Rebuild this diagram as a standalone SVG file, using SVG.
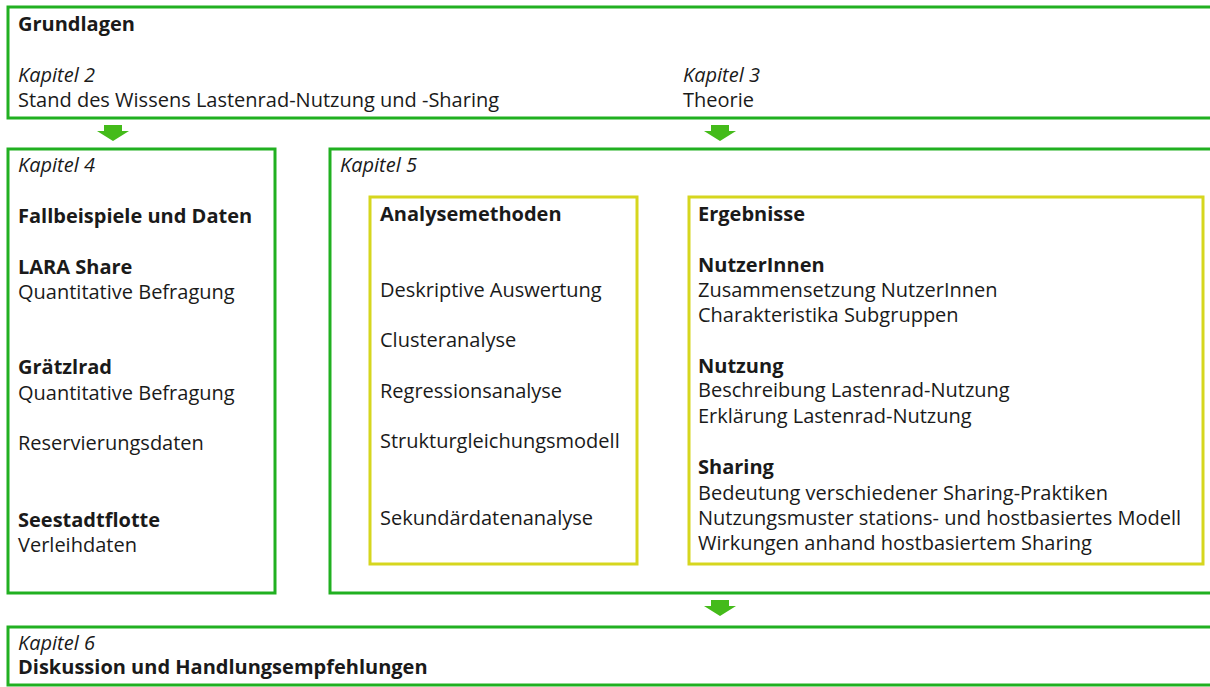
<svg xmlns="http://www.w3.org/2000/svg" width="1210" height="687" viewBox="0 0 1210 687">
<style>
text{font-family:"Open Sans","Noto Sans","Liberation Sans",sans-serif;font-size:20px;fill:#1a1a1a}
.b{font-weight:bold}
.i{font-style:italic}
.g{fill:none;stroke:#21b021;stroke-width:3}
.y{fill:none;stroke:#d6d61e;stroke-width:3}
.arr{fill:#44bb1a}
</style>
<rect width="1210" height="687" fill="#fff"/>
<g id="grundlagen">
<rect class="g" x="8" y="7" width="1220" height="111"/>
<text class="b" x="18" y="31">Grundlagen</text>
<text class="i" x="18" y="82">Kapitel 2</text>
<text x="18" y="107">Stand des Wissens Lastenrad-Nutzung und -Sharing</text>
<text class="i" x="683" y="82">Kapitel 3</text>
<text x="683" y="107">Theorie</text>
</g>
<g id="kapitel4">
<rect class="g" x="8" y="149" width="267" height="444"/>
<text class="i" x="18" y="172">Kapitel 4</text>
<text class="b" x="18" y="223">Fallbeispiele und Daten</text>
<text class="b" x="18" y="274">LARA Share</text>
<text x="18" y="299">Quantitative Befragung</text>
<text class="b" x="18" y="374">Grätzlrad</text>
<text x="18" y="400">Quantitative Befragung</text>
<text x="18" y="450">Reservierungsdaten</text>
<text class="b" x="18" y="527">Seestadtflotte</text>
<text x="18" y="552">Verleihdaten</text>
</g>
<g id="kapitel5">
<rect class="g" x="330" y="149" width="900" height="444"/>
<text class="i" x="340" y="172">Kapitel 5</text>
</g>
<g id="analysemethoden">
<rect class="y" x="370" y="197" width="267" height="367"/>
<text class="b" x="380" y="221">Analysemethoden</text>
<text x="380" y="297">Deskriptive Auswertung</text>
<text x="380" y="347">Clusteranalyse</text>
<text x="380" y="398">Regressionsanalyse</text>
<text x="380" y="448">Strukturgleichungsmodell</text>
<text x="380" y="525">Sekundärdatenanalyse</text>
</g>
<g id="ergebnisse">
<rect class="y" x="689" y="197" width="514" height="367"/>
<text class="b" x="698" y="221">Ergebnisse</text>
<text class="b" x="698" y="272">NutzerInnen</text>
<text x="698" y="297">Zusammensetzung NutzerInnen</text>
<text x="698" y="322">Charakteristika Subgruppen</text>
<text class="b" x="698" y="373">Nutzung</text>
<text x="698" y="397">Beschreibung Lastenrad-Nutzung</text>
<text x="698" y="423">Erklärung Lastenrad-Nutzung</text>
<text class="b" x="698" y="474">Sharing</text>
<text x="698" y="500">Bedeutung verschiedener Sharing-Praktiken</text>
<text x="698" y="525">Nutzungsmuster stations- und hostbasiertes Modell</text>
<text x="698" y="550">Wirkungen anhand hostbasiertem Sharing</text>
</g>
<g id="kapitel6">
<rect class="g" x="8" y="627" width="1220" height="58"/>
<text class="i" x="18" y="650">Kapitel 6</text>
<text class="b" x="18" y="674">Diskussion und Handlungsempfehlungen</text>
</g>
<g id="connectors">
<polygon class="arr" points="104,125 122,125 122,131 129,131 113,141 97,131 104,131"/>
<polygon class="arr" points="711,125 729,125 729,131 736,131 720,141 704,131 711,131"/>
<polygon class="arr" points="711,600 729,600 729,606 736,606 720,616 704,606 711,606"/>
</g>
</svg>
